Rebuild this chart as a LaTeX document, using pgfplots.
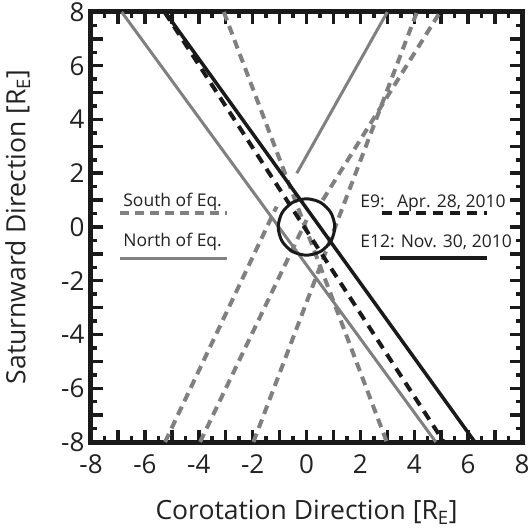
\documentclass[border=0pt]{standalone}
\usepackage{pgfplots}
\pgfplotsset{compat=1.18}
\usepackage{fontspec}
\setmainfont{Open Sans}
\definecolor{lgray}{HTML}{808080}
\definecolor{dkline}{HTML}{1A1A1A}
\definecolor{txt}{HTML}{222222}

\begin{document}
\begin{tikzpicture}
\begin{axis}[
  scale only axis, width=431pt, height=430pt,
  xmin=-8, xmax=8, ymin=-8, ymax=8,
  clip mode=individual,
  axis line style={line width=5pt, dkline},
  xtick={-8,...,8}, ytick={-8,...,8},
  xticklabels={-8,,-6,,-4,,-2,,0,,2,,4,,6,,8},
  yticklabels={-8,,-6,,-4,,-2,,0,,2,,4,,6,,8},
  minor xtick={-7.5,-6.5,...,7.5}, minor ytick={-7.5,-6.5,...,7.5},
  major tick length=12pt, minor tick length=6.5pt,
  tick style={line width=3.5pt, dkline},
  tick align=inside,
  ticklabel style={font=\fontsize{26}{26}\selectfont, text=txt},
  xticklabel style={yshift=-9pt},
  yticklabel style={xshift=-3pt},
  xlabel={Corotation Direction [R\textsubscript{E}]},
  ylabel={Saturnward Direction [R\textsubscript{E}]},
  label style={font=\fontsize{26.5}{26.5}\selectfont, text=txt},
  xlabel style={at={(axis description cs:0.5,-0.164)}, anchor=center},
  ylabel style={at={(axis description cs:-0.17,0.5)}, anchor=center},
]
% north of equator (gray solid)
\addplot[lgray, line width=3pt] coordinates {(-6.86,8) (4.8,-8)};
\addplot[lgray, line width=3pt] coordinates {(-0.36,2.0) (3.0,8)};
% south of equator (gray dashed)
\addplot[lgray, line width=4pt, dash pattern=on 9pt off 6pt] coordinates {(-3.07,8) (2.98,-8)};
\addplot[lgray, line width=4pt, dash pattern=on 9pt off 6pt] coordinates {(-5.25,-8) (-1.11,0.76)};
\addplot[lgray, line width=4pt, dash pattern=on 9pt off 6pt] coordinates {(-3.95,-8) (0.0,0.26)};
\addplot[lgray, line width=4pt, dash pattern=on 9pt off 6pt] coordinates {(-1.97,-8) (4.1,8)};
\addplot[lgray, line width=4pt, dash pattern=on 9pt off 6pt] coordinates {(0.6,1.0) (4.96,8)};
% E9 and E12
\addplot[dkline, line width=4pt, dash pattern=on 10pt off 7pt] coordinates {(-5.27,8) (5.1,-8)};
\addplot[dkline, line width=3.5pt] coordinates {(-5.25,8) (6.25,-8)};
% Enceladus
\addplot[dkline, line width=3pt, smooth cycle] coordinates {
  (1.05,0) (0.909,0.525) (0.525,0.909) (0,1.05) (-0.525,0.909) (-0.909,0.525)
  (-1.05,0) (-0.909,-0.525) (-0.525,-0.909) (0,-1.05) (0.525,-0.909) (0.909,-0.525)};
% legend
\addplot[lgray, line width=4pt, dash pattern=on 9pt off 6pt] coordinates {(-6.92,0.51) (-2.96,0.51)};
\addplot[lgray, line width=3.5pt] coordinates {(-6.92,-1.17) (-2.96,-1.17)};
\addplot[dkline, line width=4pt, dash pattern=on 10pt off 7pt] coordinates {(2.79,0.52) (6.69,0.52)};
\addplot[dkline, line width=3.5pt] coordinates {(2.73,-1.15) (6.69,-1.15)};
\begin{scope}[every node/.style={font=\fontsize{17.5}{17.5}\selectfont, text=txt, inner sep=0pt}]
\node[anchor=base] at (axis cs:-4.97,0.78) {South of Eq.};
\node[anchor=base] at (axis cs:-4.97,-0.73) {North of Eq.};
\node[anchor=base west] at (axis cs:1.99,0.74) {E9:};
\node[anchor=base east] at (axis cs:7.4,0.74) {Apr. 28, 2010};
\node[anchor=base west] at (axis cs:1.99,-0.78) {E12: Nov. 30, 2010};
\end{scope}
\coordinate (sw) at (rel axis cs:0,0);
\coordinate (ne) at (rel axis cs:1,1);
\end{axis}
\pgfresetboundingbox
\path ([shift={(-91pt,-89pt)}]sw) rectangle ([shift={(9pt,12pt)}]ne);
\end{tikzpicture}
\end{document}
